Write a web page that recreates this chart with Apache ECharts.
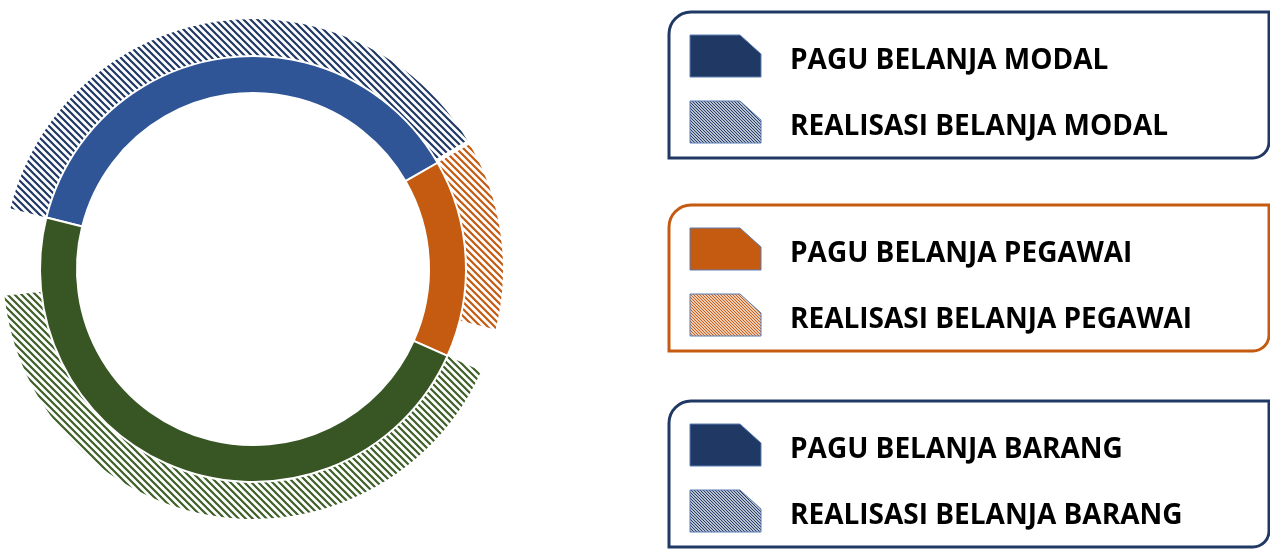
<!DOCTYPE html>
<html>
<head>
<meta charset="utf-8">
<script src="https://cdn.jsdelivr.net/npm/echarts@6/dist/echarts.min.js"></script>
<style>
  html, body { margin: 0; padding: 0; background: #fff; }
  #chart { width: 1270px; height: 550px; }
</style>
</head>
<body>
<div id="chart"></div>
<script>
// kategori belanja
const categories = ['BELANJA MODAL', 'BELANJA PEGAWAI', 'BELANJA BARANG'];
// porsi pagu (cincin dalam) dan realisasi (cincin luar), dalam persen dari total pagu
const paguShare = [37.8, 15.0, 47.2];
const realisasiShare = [37.5, 12.2, 41.6];

const ringColors = ['#2F5597', '#C55A11', '#375623'];
const hatchColors = ['#203864', '#C55A11', '#3E5F28'];
const legendBoxColors = ['#203864', '#C55A11', '#203864'];
const legendIconColors = ['#1F3864', '#C55A11', '#1F3864'];

// pola garis miring untuk realisasi
function makeHatch(color, period, lineWidth) {
  const c = document.createElement('canvas');
  c.width = period;
  c.height = period;
  const ctx = c.getContext('2d');
  ctx.strokeStyle = color;
  ctx.lineWidth = lineWidth;
  ctx.beginPath();
  ctx.moveTo(-1, -1); ctx.lineTo(period + 1, period + 1);
  ctx.moveTo(-1, period - 1); ctx.lineTo(1, period + 1);
  ctx.moveTo(period - 1, -1); ctx.lineTo(period + 1, 1);
  ctx.stroke();
  return { image: c, repeat: 'repeat' };
}

const paguData = categories.map((name, i) => ({
  name: 'PAGU ' + name,
  value: paguShare[i],
  itemStyle: { color: ringColors[i] }
}));

const realisasiData = [];
categories.forEach((name, i) => {
  realisasiData.push({
    name: 'REALISASI ' + name,
    value: realisasiShare[i],
    itemStyle: { color: makeHatch(hatchColors[i], 7, 2.2) }
  });
  realisasiData.push({
    name: 'SISA ' + name,
    value: paguShare[i] - realisasiShare[i],
    itemStyle: { color: 'rgba(0,0,0,0)' }
  });
});

// legenda kotak di kanan
const boxTops = [12, 205, 401];
const graphics = [];
categories.forEach((name, i) => {
  const top = boxTops[i];
  graphics.push({
    type: 'rect',
    shape: { x: 669, y: top, width: 600, height: 146, r: [22, 0, 16, 0] },
    style: { fill: 'none', stroke: legendBoxColors[i], lineWidth: 3 }
  });
  const rows = [
    { label: 'PAGU ' + name, fill: legendIconColors[i], iconTop: top + 23, textY: top + 49 },
    { label: 'REALISASI ' + name, fill: makeHatch(legendIconColors[i], 3, 1.2), iconTop: top + 89, textY: top + 115 }
  ];
  rows.forEach(row => {
    const y0 = row.iconTop;
    graphics.push({
      type: 'polygon',
      shape: { points: [[690, y0], [740, y0], [761, y0 + 19], [761, y0 + 42], [690, y0 + 42]] },
      style: { fill: row.fill, stroke: '#5B7DB4', lineWidth: 1 }
    });
    graphics.push({
      type: 'text',
      x: 790,
      y: row.textY,
      style: {
        text: row.label,
        fontFamily: 'Open Sans',
        fontWeight: 'bold',
        fontSize: 28,
        fill: '#000',
        verticalAlign: 'middle'
      }
    });
  });
});

const chart = echarts.init(document.getElementById('chart'));
chart.setOption({
  backgroundColor: '#fff',
  animation: false,
  graphic: graphics,
  series: [
    {
      type: 'pie',
      silent: true,
      center: [253, 269],
      radius: [210, 250],
      startAngle: 166,
      clockwise: true,
      label: { show: false },
      labelLine: { show: false },
      emphasis: { disabled: true },
      data: realisasiData
    },
    {
      type: 'pie',
      silent: true,
      center: [253, 269],
      radius: [176, 213],
      startAngle: 166,
      clockwise: true,
      label: { show: false },
      labelLine: { show: false },
      emphasis: { disabled: true },
      itemStyle: { borderColor: '#fff', borderWidth: 2 },
      data: paguData
    }
  ]
});
</script>
</body>
</html>
